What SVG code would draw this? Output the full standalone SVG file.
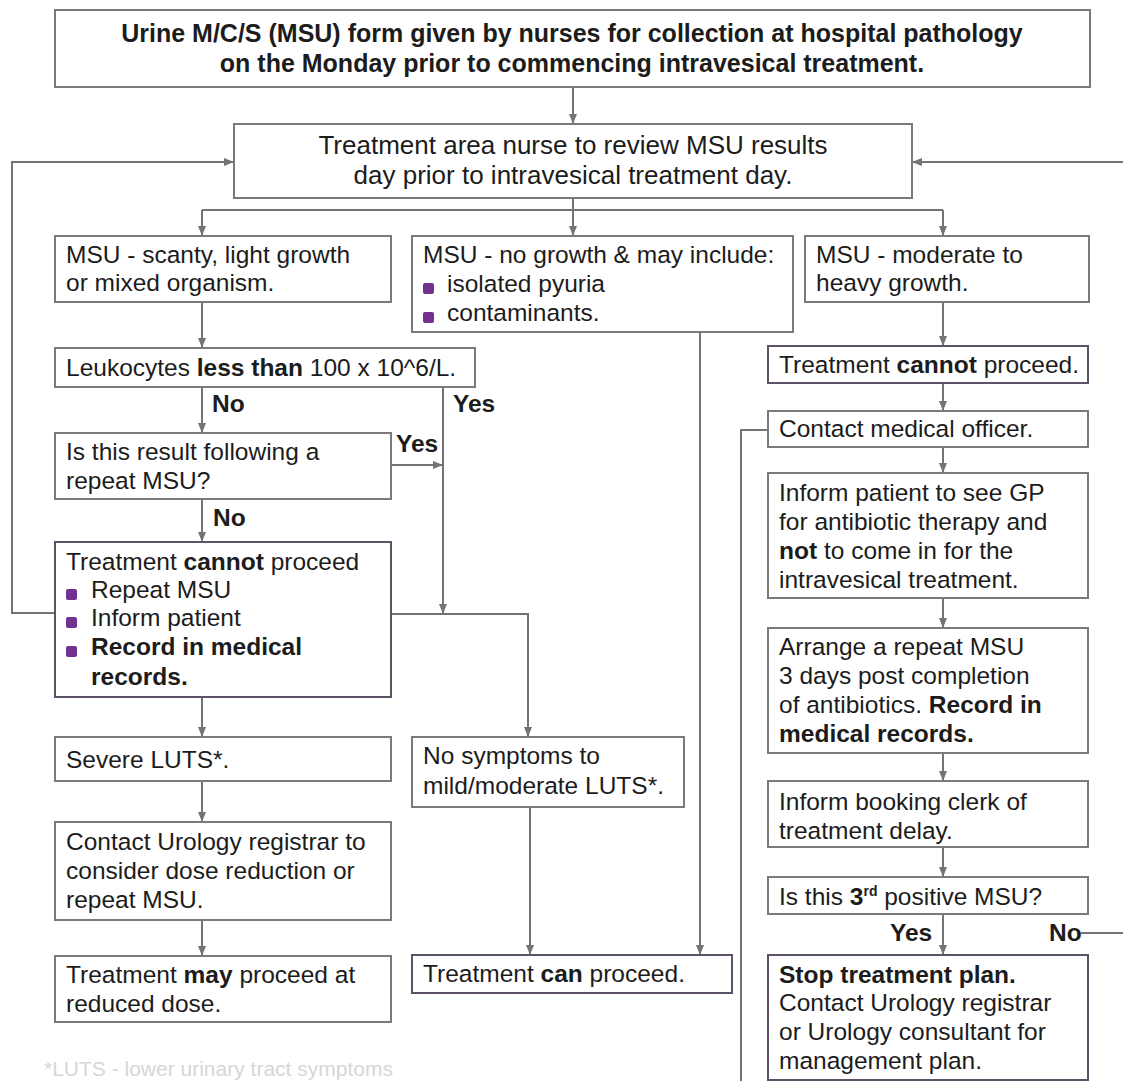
<svg xmlns="http://www.w3.org/2000/svg" width="1123" height="1081" viewBox="0 0 1123 1081">
<defs>
<style>
.bx{fill:#fff;stroke:#7a7a7a;stroke-width:2}
.bp{fill:#fff;stroke:#5e5366;stroke-width:2}
.t{font-family:"Liberation Sans",Arial,sans-serif;font-size:24.5px;fill:#1c1c1c}
.b{font-weight:bold}
.c{text-anchor:middle}
.ln{fill:none;stroke:#747474;stroke-width:2}
.bul{fill:#73318f}
</style>
<marker id="ah" markerWidth="10" markerHeight="10" refX="10" refY="5" orient="auto" markerUnits="userSpaceOnUse"><path d="M0,1 L10,5 L0,9 z" fill="#747474"/></marker>
</defs>
<rect width="1123" height="1081" fill="#fff"/>

<g id="connectors">
<path class="ln" d="M573,87 V124" marker-end="url(#ah)"/>
<path class="ln" d="M573,198 V210"/>
<path class="ln" d="M202,210 H943"/>
<path class="ln" d="M202,210 V236" marker-end="url(#ah)"/>
<path class="ln" d="M573,210 V236" marker-end="url(#ah)"/>
<path class="ln" d="M943,210 V236" marker-end="url(#ah)"/>
<path class="ln" d="M55,613 H12 V162 H234" marker-end="url(#ah)"/>
<path class="ln" d="M1081,933 H1135 V162 H912" marker-end="url(#ah)"/>
<path class="ln" d="M202,302 V348" marker-end="url(#ah)"/>
<path class="ln" d="M202,387 V433" marker-end="url(#ah)"/>
<path class="ln" d="M443,387 V614" marker-end="url(#ah)"/>
<path class="ln" d="M391,465 H443" marker-end="url(#ah)"/>
<path class="ln" d="M202,499 V542" marker-end="url(#ah)"/>
<path class="ln" d="M391,614 H528 V737" marker-end="url(#ah)"/>
<path class="ln" d="M202,697 V737" marker-end="url(#ah)"/>
<path class="ln" d="M202,781 V822" marker-end="url(#ah)"/>
<path class="ln" d="M202,920 V956" marker-end="url(#ah)"/>
<path class="ln" d="M530,807 V955" marker-end="url(#ah)"/>
<path class="ln" d="M700,332 V955" marker-end="url(#ah)"/>
<path class="ln" d="M943,302 V346" marker-end="url(#ah)"/>
<path class="ln" d="M943,383 V411" marker-end="url(#ah)"/>
<path class="ln" d="M768,430 H741 V1090"/>
<path class="ln" d="M943,447 V473" marker-end="url(#ah)"/>
<path class="ln" d="M943,598 V628" marker-end="url(#ah)"/>
<path class="ln" d="M943,753 V781" marker-end="url(#ah)"/>
<path class="ln" d="M943,847 V877" marker-end="url(#ah)"/>
<path class="ln" d="M943,914 V955" marker-end="url(#ah)"/>
<text class="t b" x="212" y="412">No</text>
<text class="t b" x="453" y="412">Yes</text>
<text class="t b" x="396" y="452">Yes</text>
<text class="t b" x="213" y="526">No</text>
<text class="t b" x="890" y="941">Yes</text>
<text class="t b" x="1049" y="941">No</text>
</g>

<g id="n-start">
<rect class="bx" x="55" y="10" width="1035" height="77"/>
<text class="t b c" x="572" y="42" style="font-size:25px">Urine M/C/S (MSU) form given by nurses for collection at hospital pathology</text>
<text class="t b c" x="572" y="72" style="font-size:25px">on the Monday prior to commencing intravesical treatment.</text>
</g>

<g id="n-review">
<rect class="bx" x="234" y="124" width="678" height="74"/>
<text class="t c" x="573" y="154" style="font-size:26px">Treatment area nurse to review MSU results</text>
<text class="t c" x="573" y="184" style="font-size:26px">day prior to intravesical treatment day.</text>
</g>

<g id="n-scanty">
<rect class="bx" x="55" y="236" width="336" height="66"/>
<text class="t" x="66" y="263">MSU - scanty, light growth</text>
<text class="t" x="66" y="291">or mixed organism.</text>
</g>

<g id="n-nogrowth">
<rect class="bx" x="412" y="236" width="381" height="96"/>
<text class="t" x="423" y="263">MSU - no growth &amp; may include:</text>
<rect class="bul" x="423" y="283" width="11" height="11" rx="2"/>
<text class="t" x="447" y="292">isolated pyuria</text>
<rect class="bul" x="423" y="312" width="11" height="11" rx="2"/>
<text class="t" x="447" y="321">contaminants.</text>
</g>

<g id="n-heavy">
<rect class="bx" x="805" y="236" width="284" height="66"/>
<text class="t" x="816" y="263">MSU - moderate to</text>
<text class="t" x="816" y="291">heavy growth.</text>
</g>

<g id="n-leuko">
<rect class="bx" x="55" y="348" width="420" height="39"/>
<text class="t" x="66" y="376">Leukocytes <tspan class="b">less than</tspan> 100 x 10^6/L.</text>
</g>

<g id="n-repeat-q">
<rect class="bx" x="55" y="433" width="336" height="66"/>
<text class="t" x="66" y="460">Is this result following a</text>
<text class="t" x="66" y="489">repeat MSU?</text>
</g>

<g id="n-cannot-left">
<rect class="bp" x="55" y="542" width="336" height="155"/>
<text class="t" x="66" y="570">Treatment <tspan class="b">cannot</tspan> proceed</text>
<rect class="bul" x="66" y="589" width="11" height="11" rx="2"/>
<text class="t" x="91" y="598">Repeat MSU</text>
<rect class="bul" x="66" y="617" width="11" height="11" rx="2"/>
<text class="t" x="91" y="626">Inform patient</text>
<rect class="bul" x="66" y="646" width="11" height="11" rx="2"/>
<text class="t b" x="91" y="655">Record in medical</text>
<text class="t b" x="91" y="685">records.</text>
</g>

<g id="n-severe">
<rect class="bx" x="55" y="737" width="336" height="44"/>
<text class="t" x="66" y="768">Severe LUTS*.</text>
</g>

<g id="n-urology">
<rect class="bx" x="55" y="822" width="336" height="98"/>
<text class="t" x="66" y="850">Contact Urology registrar to</text>
<text class="t" x="66" y="879">consider dose reduction or</text>
<text class="t" x="66" y="908">repeat MSU.</text>
</g>

<g id="n-may">
<rect class="bx" x="55" y="956" width="336" height="66"/>
<text class="t" x="66" y="983">Treatment <tspan class="b">may</tspan> proceed at</text>
<text class="t" x="66" y="1012">reduced dose.</text>
</g>

<g id="n-nosymptoms">
<rect class="bx" x="412" y="737" width="272" height="70"/>
<text class="t" x="423" y="764">No symptoms to</text>
<text class="t" x="423" y="794">mild/moderate LUTS*.</text>
</g>

<g id="n-can">
<rect class="bp" x="412" y="955" width="320" height="38"/>
<text class="t" x="423" y="982">Treatment <tspan class="b">can</tspan> proceed.</text>
</g>

<g id="n-cannot-right">
<rect class="bp" x="768" y="346" width="320" height="37"/>
<text class="t" x="779" y="373">Treatment <tspan class="b">cannot</tspan> proceed.</text>
</g>

<g id="n-officer">
<rect class="bx" x="768" y="411" width="320" height="36"/>
<text class="t" x="779" y="437">Contact medical officer.</text>
</g>

<g id="n-gp">
<rect class="bx" x="768" y="473" width="320" height="125"/>
<text class="t" x="779" y="501">Inform patient to see GP</text>
<text class="t" x="779" y="530">for antibiotic therapy and</text>
<text class="t" x="779" y="559"><tspan class="b">not</tspan> to come in for the</text>
<text class="t" x="779" y="588">intravesical treatment.</text>
</g>

<g id="n-arrange">
<rect class="bx" x="768" y="628" width="320" height="125"/>
<text class="t" x="779" y="655">Arrange a repeat MSU</text>
<text class="t" x="779" y="684">3 days post completion</text>
<text class="t" x="779" y="713">of antibiotics. <tspan class="b">Record in</tspan></text>
<text class="t b" x="779" y="742">medical records.</text>
</g>

<g id="n-clerk">
<rect class="bx" x="768" y="781" width="320" height="66"/>
<text class="t" x="779" y="810">Inform booking clerk of</text>
<text class="t" x="779" y="839">treatment delay.</text>
</g>

<g id="n-third">
<rect class="bx" x="768" y="877" width="320" height="37"/>
<text class="t" x="779" y="905">Is this <tspan class="b">3<tspan style="font-size:14px" dy="-9">rd</tspan></tspan><tspan dy="9"> positive MSU?</tspan></text>
</g>

<g id="n-stop">
<rect class="bp" x="768" y="955" width="320" height="125"/>
<text class="t b" x="779" y="983">Stop treatment plan.</text>
<text class="t" x="779" y="1011">Contact Urology registrar</text>
<text class="t" x="779" y="1040">or Urology consultant for</text>
<text class="t" x="779" y="1069">management plan.</text>
</g>

<text class="t" x="44" y="1076" style="fill:#d6d6d6;font-size:21px">*LUTS - lower urinary tract symptoms</text>
</svg>
